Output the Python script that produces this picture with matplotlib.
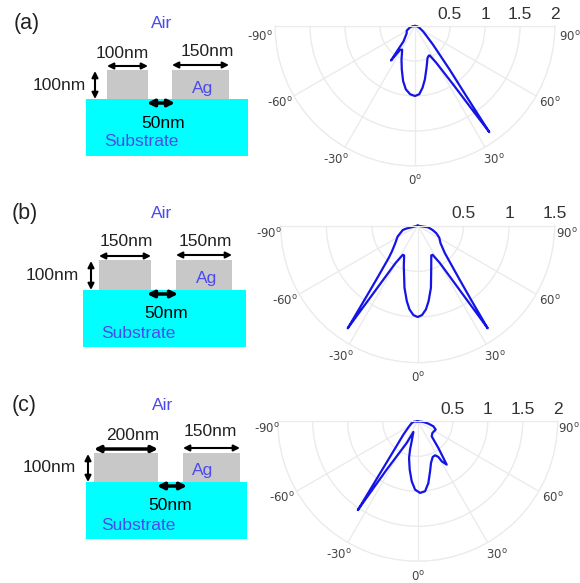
import numpy as np
import matplotlib
matplotlib.use('Agg')
import matplotlib.pyplot as plt
from matplotlib.patches import Rectangle

plt.rcParams['font.family'] = ['Liberation Sans', 'DejaVu Sans']
plt.rcParams['mathtext.default'] = 'regular'

W, H = 580, 583

# far field patterns, angle in degrees and radius
theta_a = [-90, -83, -75, -61, -49, -36.7, -35.5, -34.8, -32, -28.4, -21.9, -16.9, -12.2, -8.3, -4.1,
           0, 3.6, 7, 10.5, 15.4, 21.4, 25, 26.6, 30.1, 33.2, 34.5, 35, 36.2, 38.5, 44, 47.3, 55.8, 65, 82, 90]
r_a = [0, 0.038, 0.073, 0.135, 0.157, 0.276, 0.445, 0.60, 0.40, 0.385, 0.517, 0.649, 0.804, 0.913, 0.977,
       1.0, 0.976, 0.887, 0.775, 0.62, 0.49, 0.467, 0.47, 0.61, 1.013, 1.525, 1.85, 1.24, 0.79, 0.37, 0.256,
       0.142, 0.078, 0.033, 0]

theta_b = [-90, -76, -73.9, -61.6, -52, -45, -41.9, -37.7, -35.8, -34.3, -34, -33, -30.7, -27.1, -24.5,
           -18.9, -12, -8.2, -5.6, -2.8, 0, 2.8, 5.6, 8.2, 12, 18.4, 24.5, 27.1, 30.7, 33, 34, 34.3, 35.9,
           38.1, 44.7, 52.5, 61, 68, 73.9, 81, 90]
r_b = [0, 0.123, 0.17, 0.25, 0.312, 0.40, 0.477, 0.724, 0.973, 1.36, 1.17, 0.812, 0.475, 0.358, 0.358,
       0.47, 0.696, 0.835, 0.921, 0.979, 1.0, 0.979, 0.921, 0.835, 0.696, 0.47, 0.358, 0.358, 0.475, 0.812,
       1.17, 1.36, 0.976, 0.728, 0.423, 0.315, 0.27, 0.22, 0.17, 0.117, 0]

theta_c = [-90, -84.8, -74.5, -57, -47, -37, -34.9, -34, -33.6, -32.7, -26.9, -22, -16.7, -15.1, -13.3,
           -9.4, -5.7, -2.2, 1.9, 6, 9.8, 13.9, 17.7, 22.8, 27, 30.1, 31, 33.8, 37.8, 43, 51.5, 65.2, 72.3,
           77.7, 83.3, 90]
r_c = [0, 0.053, 0.089, 0.158, 0.28, 0.745, 1.16, 1.53, 1.2, 0.82, 0.347, 0.164, 0.298, 0.419, 0.538,
       0.70, 0.861, 0.977, 1.024, 1.005, 0.895, 0.736, 0.625, 0.553, 0.545, 0.589, 0.667, 0.745, 0.48,
       0.293, 0.268, 0.283, 0.235, 0.156, 0.082, 0]

rticks_a = [0.5, 1, 1.5, 2]
rticks_b = [0.5, 1, 1.5]
rticks_c = [0.5, 1, 1.5, 2]
angles = [-90, -60, -30, 0, 30, 60, 90]
angle_pos = [-60.5, -30.5, 0, 30.5, 60.5]


def polar_panel(fig, cx, cy, R, theta, r, rticks, edge_fac, edge_ang):
    # the half disc sits in the middle of a square box
    box_mid = cy + R / 2
    ax = fig.add_axes([(cx - R) / W, 1 - (box_mid + R) / H, 2 * R / W, 2 * R / H], projection='polar')
    ax.set_theta_zero_location('S')
    ax.set_thetamin(-90)
    ax.set_thetamax(90)
    rmax = rticks[-1]
    ax.set_rlim(0, rmax)
    ax.set_rticks(rticks)
    ax.set_thetagrids(angles)
    ax.set_xticklabels([])
    ax.set_yticklabels([])
    ax.grid(color='#ebebeb', lw=1)
    # draw() turns start/end/inner back on, so recolour them
    for s in ax.spines.values():
        s.set_color('#ebebeb')
    ax.plot(np.radians(theta), r, color='#1414e6', lw=1.6, clip_on=False, solid_joinstyle='round')
    for a in angles:
        if abs(a) == 90:
            p, fac = np.sign(a) * edge_ang, edge_fac
        else:
            p, fac = angle_pos[angles.index(a) - 1], 1.11
        ax.text(np.radians(p), rmax * fac, '%d$^{o}$' % a, color='#444444', fontsize=8.5,
                family='DejaVu Sans', ha='center', va='center', clip_on=False)
    for t in rticks:
        ax.annotate('%g' % t, xy=(np.pi / 2, t), xytext=(0, 8.5), textcoords='offset points',
                    color='#333333', fontsize=12.5, ha='center', va='center', annotation_clip=False)
    return ax


def arrow(ax, x0, y0, x1, y1, lw=1.5, ms=9):
    ax.annotate('', xy=(x1, y1), xytext=(x0, y0),
                arrowprops=dict(arrowstyle='<|-|>', color='black', lw=lw, mutation_scale=ms,
                                shrinkA=0, shrinkB=0))


def schematic(ax, tag, sub, left, right, top, ylab, xlab_l, xlab_r, lab_l, lab_r, top_lw=1.5):
    blue = '#4a4aee'
    sx0, sx1, sy0, sy1 = sub
    ax.add_patch(Rectangle((sx0, sy0), sx1 - sx0, sy1 - sy0, color='#00ffff', lw=0))
    for bx0, bx1 in (left, right):
        ax.add_patch(Rectangle((bx0, top), bx1 - bx0, sy0 - top, color='#c8c8c8', lw=0))
    kw = dict(ha='center', va='center', fontsize=12.5)
    ax.text(tag[0], tag[1], tag[2], color='#222222', ha='center', va='center', fontsize=15.5)
    ax.text(tag[3], tag[1], 'Air', color=blue, **kw)
    ax.text(*lab_l[:2], lab_l[2], color='#222222', **kw)
    ax.text(*lab_r[:2], lab_r[2], color='#222222', **kw)
    ax.text(ylab[0], ylab[1], '100nm', color='#222222', **kw)
    ax.text(ylab[2], sy0 + 24, '50nm', color='black', **kw)
    ax.text(xlab_r[0], xlab_r[1], 'Ag', color=blue, **kw)
    ax.text(xlab_l[0], xlab_l[1], 'Substrate', color=blue, **kw)
    arrow(ax, left[0], top - 4, left[1], top - 4, lw=top_lw)
    arrow(ax, right[0], top - 5, right[1], top - 5)
    arrow(ax, ylab[3], top + 1, ylab[3], sy0)
    arrow(ax, ylab[4], sy0 + 4, ylab[5], sy0 + 4, lw=2.5, ms=10)


fig = plt.figure(figsize=(W / 100, H / 100), dpi=100)

polar_panel(fig, 415, 26, 140, theta_a, r_a, rticks_a, 1.11, 86)
polar_panel(fig, 417.7, 225.7, 137, theta_b, r_b, rticks_b, 1.09, 87)
polar_panel(fig, 417.7, 421.3, 140, theta_c, r_c, rticks_c, 1.08, 87)

over = fig.add_axes([0, 0, 1, 1])
over.set_xlim(0, W)
over.set_ylim(H, 0)
over.axis('off')
over.patch.set_alpha(0)

schematic(over, (27, 23, '(a)', 162), (86, 248, 99, 156), (107, 148), (172, 229), 70,
          (59, 86, 163, 95, 147, 175), (141, 142), (203, 88),
          (122, 53, '100nm'), (207, 51, '150nm'))
schematic(over, (25, 214, '(b)', 162), (83, 246, 290, 347), (99, 151), (176, 232), 260,
          (52, 275, 166, 91, 147, 178), (138, 333), (207, 278),
          (126, 242, '150nm'), (205, 241, '150nm'))
schematic(over, (24, 405, '(c)', 163), (86, 247, 482, 539), (94, 158), (183, 240), 453,
          (49, 467, 170, 88, 157, 187), (138, 525), (203, 470),
          (133, 435, '200nm'), (210, 432, '150nm'), top_lw=2.5)

fig.savefig('out.png', dpi=100)
